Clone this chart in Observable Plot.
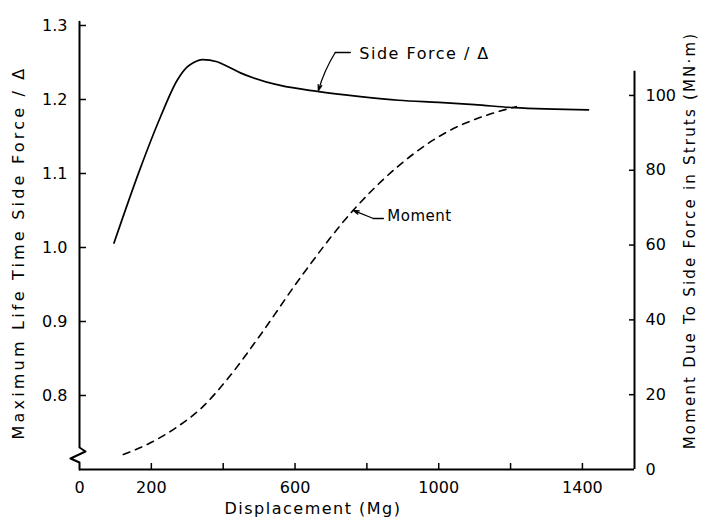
<!DOCTYPE html>
<html><head><meta charset="utf-8">
<script src="https://cdn.jsdelivr.net/npm/d3@7"></script>
<script src="https://cdn.jsdelivr.net/npm/@observablehq/plot@0.6"></script>
<style>
body{margin:0;background:#fff;}
#chart svg{font-family:"DejaVu Sans",sans-serif;}
</style></head><body><div id="chart"></div>
<script>
// Side Force / Δ (left axis)
const sideX = [96, 170, 225, 272, 300, 318, 342, 383, 411, 448, 485, 559, 662, 782, 888, 1000, 1100, 1209, 1417];
const sideY = [1.006, 1.108, 1.176, 1.226, 1.244, 1.250, 1.254, 1.251, 1.245, 1.236, 1.229, 1.219, 1.211, 1.204, 1.199, 1.196, 1.193, 1.189, 1.186];
// Moment (right axis, MN·m)
const momentX = [122, 199, 269, 338, 412, 500, 615, 762, 886, 1030, 1133, 1216];
const momentY = [4.0, 7.2, 11.2, 16.3, 24.2, 35.5, 51.3, 69.3, 81.0, 90.6, 94.7, 97];

const xDomain = [0, 1545];
const leftDomain = [0.7, 1.3];
const rightMax = 118.7;            // moment value at top of left domain
const rightAxisTop = 106.5;
const leftAxisTop = 1.305;

const xTicks = [200, 400, 600, 800, 1000, 1200, 1400];
const xLabels = [0, 200, 600, 1000, 1400];
const leftTicks = [0.8, 0.9, 1.0, 1.1, 1.2, 1.3];
const rightTicks = [20, 40, 60, 80, 100];
const rightLabels = [0, 20, 40, 60, 80, 100];

const xTitle = "Displacement (Mg)";
const leftTitle = "Maximum Life Time Side Force / Δ";
const rightTitle = "Moment Due To Side Force in Struts (MN·m)";
const sideLabel = "Side Force / Δ";
const momentLabel = "Moment";

// axis break (zigzag) on left axis
const breakX = [0, 0, 16.7, -25, 0, 0];
const breakY = [leftAxisTop, 0.7297, 0.7243, 0.7149, 0.7095, 0.7];

// annotation leaders
const sideLeaderX = [754, 712];
const sideLeaderY = [1.2635, 1.2635];
const sideTip = {x: 665, y: 1.212};
const sideTextPos = {x: 779, y: 1.262};
const momentTip = {x: 762, m: 69.3};
const momentLeaderX = [818, 846];
const momentLeaderM = [67.1, 67.1];
const momentTextPos = {x: 857, m: 67.6};

const toLeft = m => leftDomain[0] + m / rightMax * (leftDomain[1] - leftDomain[0]);
const fromLeft = v => (v - leftDomain[0]) / (leftDomain[1] - leftDomain[0]) * rightMax;

const side = sideX.map((x, i) => ({x, y: sideY[i]}));
const moment = momentX.map((x, i) => ({x, y: toLeft(momentY[i])}));
const brk = breakX.map((x, i) => ({x, y: breakY[i]}));

const plot = Plot.plot({
  width: 710, height: 531,
  marginLeft: 79, marginRight: 76, marginTop: 25, marginBottom: 62,
  style: {fontFamily: "DejaVu Sans", fontSize: "16px", color: "#000", background: "#fff"},
  x: {domain: xDomain},
  y: {domain: leftDomain},
  marks: [
    // axes lines
    Plot.ruleY([0.7], {x1: 0, x2: xDomain[1], strokeWidth: 2}),
    Plot.line(brk, {x: "x", y: "y", strokeWidth: 2, curve: "linear"}),
    Plot.ruleX([xDomain[1]], {y1: 0.7, y2: toLeft(rightAxisTop), strokeWidth: 2}),
    // x axis
    Plot.axisX(xTicks, {tickSize: -6, fill: "none", strokeWidth: 1.5, label: null}),
    Plot.axisX(xLabels, {tickSize: 0, tickPadding: 12, tickFormat: d => String(d), label: null}),
    // left axis
    Plot.axisY(leftTicks, {anchor: "left", tickSize: -7, fill: "none", strokeWidth: 1.5, label: null}),
    Plot.axisY(leftTicks, {anchor: "left", tickSize: 0, tickPadding: 12, tickFormat: d => d.toFixed(1), label: null}),
    // right axis
    Plot.axisY(rightTicks.map(toLeft), {anchor: "right", tickSize: -6, fill: "none", strokeWidth: 1.5, label: null}),
    Plot.axisY(rightLabels.map(toLeft), {anchor: "right", tickSize: 0, tickPadding: 11, tickFormat: d => String(Math.round(fromLeft(d))), label: null}),
    // titles
    Plot.text([xTitle], {frameAnchor: "bottom", dy: 44, dx: -44, fontSize: 16}),
    Plot.text([leftTitle], {frameAnchor: "left", textAnchor: "middle", rotate: -90, dx: -61, dy: 5, fontSize: 16}),
    Plot.text([rightTitle], {frameAnchor: "right", textAnchor: "middle", rotate: -90, dx: 56, dy: -7, fontSize: 15}),
    // curves
    Plot.line(side, {x: "x", y: "y", curve: "monotone-x", strokeWidth: 1.7}),
    Plot.line(moment, {x: "x", y: "y", curve: "monotone-x", strokeWidth: 1.6, strokeDasharray: "7,6"}),
    // annotations
    Plot.line(sideLeaderX.map((x, i) => ({x, y: sideLeaderY[i]})), {x: "x", y: "y", strokeWidth: 1.3}),
    Plot.arrow([0], {x1: () => sideLeaderX[1], y1: () => sideLeaderY[1], x2: () => sideTip.x, y2: () => sideTip.y, headLength: 7, headAngle: 35, bend: -8, strokeWidth: 1.3}),
    Plot.text([sideLabel], {x: () => sideTextPos.x, y: () => sideTextPos.y, textAnchor: "start", fontSize: 16}),
    Plot.line(momentLeaderX.map((x, i) => ({x, y: toLeft(momentLeaderM[i])})), {x: "x", y: "y", strokeWidth: 1.3}),
    Plot.arrow([0], {x1: () => momentLeaderX[0], y1: () => toLeft(momentLeaderM[0]), x2: () => momentTip.x, y2: () => toLeft(momentTip.m), headLength: 7, headAngle: 35, strokeWidth: 1.3}),
    Plot.text([momentLabel], {x: () => momentTextPos.x, y: () => toLeft(momentTextPos.m), textAnchor: "start", fontSize: 15})
  ]
});
document.getElementById("chart").appendChild(plot);
d3.select(plot).selectAll("text").each(function() {
  const t = this.textContent;
  if (t === leftTitle) d3.select(this).attr("letter-spacing", "3.2px");
  if (t === rightTitle) d3.select(this).attr("letter-spacing", "2.2px");
  if (t === xTitle) d3.select(this).attr("letter-spacing", "1.5px");
  if (t === sideLabel) d3.select(this).attr("letter-spacing", "1.5px");
  if (t === momentLabel) d3.select(this).attr("letter-spacing", "0.5px");
});
</script></body></html>
